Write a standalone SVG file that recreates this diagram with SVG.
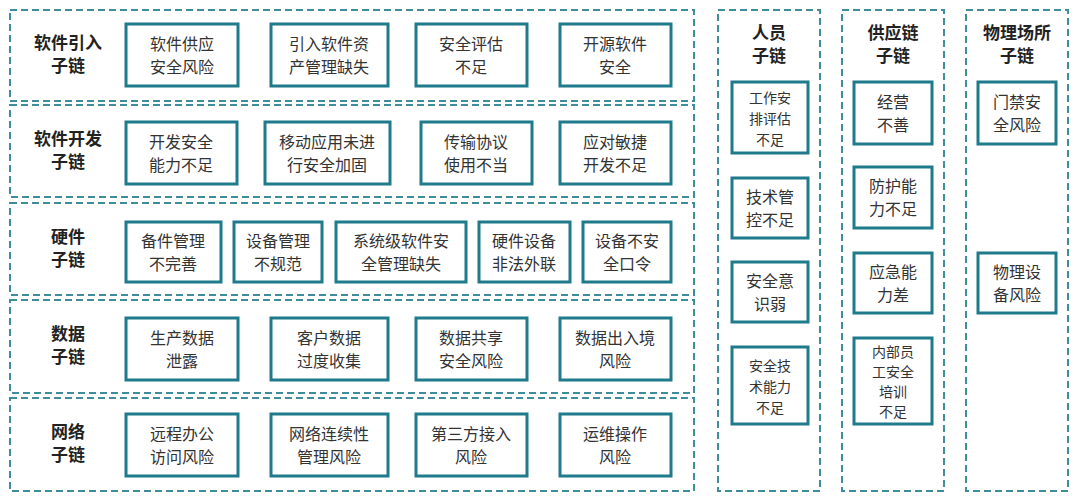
<svg xmlns="http://www.w3.org/2000/svg" width="1080" height="502" viewBox="0 0 1080 502">
<style>
.g{fill:none;stroke:#3f8c9c;stroke-width:2;stroke-dasharray:7,4}
.b{fill:#fff;stroke:#1f7a8c;stroke-width:3}
text{font-family:"Noto Sans CJK SC",sans-serif;font-size:16px;fill:#333;text-anchor:middle}
.t{font-weight:bold;font-size:17px;fill:#222}
.s{font-size:14px}
</style>
<rect width="1080" height="502" fill="#fff"/>
<g id="groups">
<rect class="g" x="10" y="10" width="684" height="91"/>
<rect class="g" x="10" y="105" width="684" height="92"/>
<rect class="g" x="10" y="203" width="684" height="92"/>
<rect class="g" x="10" y="300" width="684" height="93"/>
<rect class="g" x="10" y="398" width="684" height="93"/>
<rect class="g" x="718" y="10" width="102" height="481"/>
<rect class="g" x="842" y="10" width="102" height="481"/>
<rect class="g" x="966" y="10" width="102" height="481"/>
</g>
<g id="titles">
<text class="t" x="68" y="49">软件引入</text><text class="t" x="68" y="72">子链</text>
<text class="t" x="68" y="145">软件开发</text><text class="t" x="68" y="168">子链</text>
<text class="t" x="68" y="243">硬件</text><text class="t" x="68" y="266">子链</text>
<text class="t" x="68" y="340">数据</text><text class="t" x="68" y="363">子链</text>
<text class="t" x="68" y="438">网络</text><text class="t" x="68" y="461">子链</text>
<text class="t" x="769" y="39">人员</text><text class="t" x="769" y="62">子链</text>
<text class="t" x="893" y="39">供应链</text><text class="t" x="893" y="62">子链</text>
<text class="t" x="1017" y="39">物理场所</text><text class="t" x="1017" y="62">子链</text>
</g>
<g id="r1">
<rect class="b" x="126" y="24" width="112" height="62"/><text x="182" y="50">软件供应</text><text x="182" y="73">安全风险</text>
<rect class="b" x="271" y="24" width="117" height="62"/><text x="329" y="50">引入软件资</text><text x="329" y="73">产管理缺失</text>
<rect class="b" x="416" y="24" width="111" height="62"/><text x="471" y="50">安全评估</text><text x="471" y="73">不足</text>
<rect class="b" x="560" y="24" width="111" height="62"/><text x="615" y="50">开源软件</text><text x="615" y="73">安全</text>
</g>
<g id="r2">
<rect class="b" x="126" y="122" width="111" height="62"/><text x="181" y="148">开发安全</text><text x="181" y="171">能力不足</text>
<rect class="b" x="265" y="122" width="125" height="62"/><text x="327" y="148">移动应用未进</text><text x="327" y="171">行安全加固</text>
<rect class="b" x="421" y="122" width="111" height="62"/><text x="476" y="148">传输协议</text><text x="476" y="171">使用不当</text>
<rect class="b" x="560" y="122" width="111" height="62"/><text x="615" y="148">应对敏捷</text><text x="615" y="171">开发不足</text>
</g>
<g id="r3">
<rect class="b" x="126" y="222" width="95" height="60"/><text x="173" y="247">备件管理</text><text x="173" y="270">不完善</text>
<rect class="b" x="234" y="222" width="88" height="60"/><text x="278" y="247">设备管理</text><text x="278" y="270">不规范</text>
<rect class="b" x="336" y="222" width="130" height="60"/><text x="401" y="247">系统级软件安</text><text x="401" y="270">全管理缺失</text>
<rect class="b" x="479" y="222" width="91" height="60"/><text x="524" y="247">硬件设备</text><text x="524" y="270">非法外联</text>
<rect class="b" x="583" y="222" width="88" height="60"/><text x="627" y="247">设备不安</text><text x="627" y="270">全口令</text>
</g>
<g id="r4">
<rect class="b" x="126" y="318" width="112" height="62"/><text x="182" y="344">生产数据</text><text x="182" y="367">泄露</text>
<rect class="b" x="271" y="318" width="117" height="62"/><text x="329" y="344">客户数据</text><text x="329" y="367">过度收集</text>
<rect class="b" x="416" y="318" width="111" height="62"/><text x="471" y="344">数据共享</text><text x="471" y="367">安全风险</text>
<rect class="b" x="560" y="318" width="111" height="62"/><text x="615" y="344">数据出入境</text><text x="615" y="367">风险</text>
</g>
<g id="r5">
<rect class="b" x="126" y="414" width="112" height="62"/><text x="182" y="440">远程办公</text><text x="182" y="463">访问风险</text>
<rect class="b" x="271" y="414" width="117" height="62"/><text x="329" y="440">网络连续性</text><text x="329" y="463">管理风险</text>
<rect class="b" x="416" y="414" width="111" height="62"/><text x="471" y="440">第三方接入</text><text x="471" y="463">风险</text>
<rect class="b" x="560" y="414" width="111" height="62"/><text x="615" y="440">运维操作</text><text x="615" y="463">风险</text>
</g>
<g id="c1">
<rect class="b" x="732" y="82" width="76" height="71"/><text class="s" x="770" y="103">工作安</text><text class="s" x="770" y="124">排评估</text><text class="s" x="770" y="145">不足</text>
<rect class="b" x="732" y="178" width="76" height="60"/><text x="770" y="203">技术管</text><text x="770" y="226">控不足</text>
<rect class="b" x="732" y="262" width="76" height="60"/><text x="770" y="287">安全意</text><text x="770" y="310">识弱</text>
<rect class="b" x="732" y="347" width="76" height="77"/><text class="s" x="770" y="371">安全技</text><text class="s" x="770" y="392">术能力</text><text class="s" x="770" y="413">不足</text>
</g>
<g id="c2">
<rect class="b" x="854" y="82" width="78" height="62"/><text x="893" y="108">经营</text><text x="893" y="131">不善</text>
<rect class="b" x="854" y="167" width="78" height="61"/><text x="893" y="192">防护能</text><text x="893" y="215">力不足</text>
<rect class="b" x="854" y="253" width="78" height="60"/><text x="893" y="278">应急能</text><text x="893" y="301">力差</text>
<rect class="b" x="854" y="338" width="78" height="86"/><text class="s" x="893" y="357">内部员</text><text class="s" x="893" y="377">工安全</text><text class="s" x="893" y="397">培训</text><text class="s" x="893" y="417">不足</text>
</g>
<g id="c3">
<rect class="b" x="978" y="82" width="78" height="62"/><text x="1017" y="108">门禁安</text><text x="1017" y="131">全风险</text>
<rect class="b" x="978" y="253" width="78" height="60"/><text x="1017" y="278">物理设</text><text x="1017" y="301">备风险</text>
</g>
<g id="connectors"/>
</svg>
